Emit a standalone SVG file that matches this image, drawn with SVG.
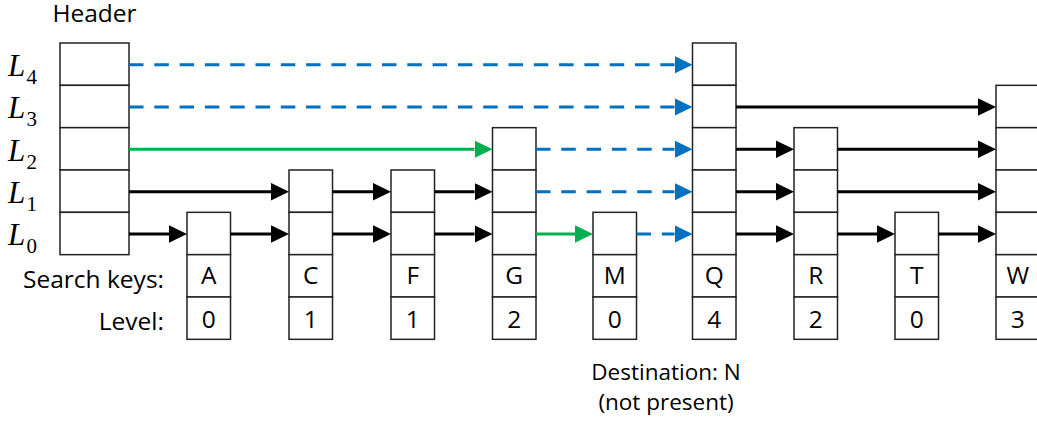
<svg xmlns="http://www.w3.org/2000/svg" width="1037" height="421" viewBox="0 0 1037 421">
  <style>
    .cell { fill: #ffffff; stroke: #222222; stroke-width: 1.5; }
    .lbl { font-family: "Open Sans", Lato, "Liberation Sans", sans-serif; font-size: 24.5px; fill: #000000; }
    .note { font-family: "Open Sans", Lato, "Liberation Sans", sans-serif; font-size: 22.5px; fill: #000000; text-anchor: middle; }
    .mid { text-anchor: middle; }
    .end { text-anchor: end; }
    .lv { font-family: "Liberation Serif", "DejaVu Serif", serif; font-style: italic; font-size: 31px; fill: #000000; }
    .sub { font-family: "Liberation Serif", "DejaVu Serif", serif; font-size: 21px; fill: #000000; }
    .k { stroke: #000000; stroke-width: 3; fill: none; marker-end: url(#ah-k); }
    .g { stroke: #00B050; stroke-width: 3; fill: none; marker-end: url(#ah-g); }
    .b { stroke: #0070C0; stroke-width: 3; fill: none; stroke-dasharray: 14.5 10.8; marker-end: url(#ah-b); }
  </style>
  <defs>
    <marker id="ah-k" viewBox="0 0 18 18" refX="0" refY="9" markerWidth="18" markerHeight="18" markerUnits="userSpaceOnUse" orient="auto">
      <path d="M0,0.25 L18,9 L0,17.75 z" fill="#000000"/>
    </marker>
    <marker id="ah-g" viewBox="0 0 18 18" refX="0" refY="9" markerWidth="18" markerHeight="18" markerUnits="userSpaceOnUse" orient="auto">
      <path d="M0,0.25 L18,9 L0,17.75 z" fill="#00B050"/>
    </marker>
    <marker id="ah-b" viewBox="0 0 18 18" refX="0" refY="9" markerWidth="18" markerHeight="18" markerUnits="userSpaceOnUse" orient="auto">
      <path d="M0,0.25 L18,9 L0,17.75 z" fill="#0070C0"/>
    </marker>
  </defs>

  <rect x="0" y="0" width="1037" height="421" fill="#ffffff"/>

  <!-- level labels -->
  <g id="level-labels">
    <text class="lv" x="8" y="76">L</text><text class="sub" x="26.5" y="84">4</text>
    <text class="lv" x="8" y="118.3">L</text><text class="sub" x="26.5" y="126.3">3</text>
    <text class="lv" x="8" y="160.7">L</text><text class="sub" x="26.5" y="168.7">2</text>
    <text class="lv" x="8" y="203">L</text><text class="sub" x="26.5" y="211">1</text>
    <text class="lv" x="8" y="245.3">L</text><text class="sub" x="26.5" y="253.3">0</text>
  </g>

  <g id="row-labels">
    <text class="lbl end" x="164" y="288">Search keys:</text>
    <text class="lbl end" x="164" y="330">Level:</text>
  </g>

  <!-- header node -->
  <g id="node-header">
    <text class="lbl mid" x="94.5" y="22">Header</text>
    <rect class="cell" x="60" y="43" width="69" height="42.33"/>
    <rect class="cell" x="60" y="85.33" width="69" height="42.33"/>
    <rect class="cell" x="60" y="127.67" width="69" height="42.33"/>
    <rect class="cell" x="60" y="170" width="69" height="42.33"/>
    <rect class="cell" x="60" y="212.33" width="69" height="42.33"/>
  </g>

  <!-- key A, level 0 -->
  <g id="node-A">
    <rect class="cell" x="187" y="212.33" width="43.5" height="42.33"/>
    <rect class="cell" x="187" y="254.67" width="43.5" height="42.33"/>
    <rect class="cell" x="187" y="297" width="43.5" height="42.33"/>
    <text class="lbl mid" x="208.75" y="283.5">A</text>
    <text class="lbl mid" x="208.75" y="327.5">0</text>
  </g>

  <!-- key C, level 1 -->
  <g id="node-C">
    <rect class="cell" x="289" y="170" width="43.5" height="42.33"/>
    <rect class="cell" x="289" y="212.33" width="43.5" height="42.33"/>
    <rect class="cell" x="289" y="254.67" width="43.5" height="42.33"/>
    <rect class="cell" x="289" y="297" width="43.5" height="42.33"/>
    <text class="lbl mid" x="310.75" y="283.5">C</text>
    <text class="lbl mid" x="310.75" y="327.5">1</text>
  </g>

  <!-- key F, level 1 -->
  <g id="node-F">
    <rect class="cell" x="391" y="170" width="43.5" height="42.33"/>
    <rect class="cell" x="391" y="212.33" width="43.5" height="42.33"/>
    <rect class="cell" x="391" y="254.67" width="43.5" height="42.33"/>
    <rect class="cell" x="391" y="297" width="43.5" height="42.33"/>
    <text class="lbl mid" x="412.75" y="283.5">F</text>
    <text class="lbl mid" x="412.75" y="327.5">1</text>
  </g>

  <!-- key G, level 2 -->
  <g id="node-G">
    <rect class="cell" x="492.5" y="127.67" width="43.5" height="42.33"/>
    <rect class="cell" x="492.5" y="170" width="43.5" height="42.33"/>
    <rect class="cell" x="492.5" y="212.33" width="43.5" height="42.33"/>
    <rect class="cell" x="492.5" y="254.67" width="43.5" height="42.33"/>
    <rect class="cell" x="492.5" y="297" width="43.5" height="42.33"/>
    <text class="lbl mid" x="514.25" y="283.5">G</text>
    <text class="lbl mid" x="514.25" y="327.5">2</text>
  </g>

  <!-- key M, level 0 -->
  <g id="node-M">
    <rect class="cell" x="593" y="212.33" width="43.5" height="42.33"/>
    <rect class="cell" x="593" y="254.67" width="43.5" height="42.33"/>
    <rect class="cell" x="593" y="297" width="43.5" height="42.33"/>
    <text class="lbl mid" x="614.75" y="283.5">M</text>
    <text class="lbl mid" x="614.75" y="327.5">0</text>
  </g>

  <!-- key Q, level 4 -->
  <g id="node-Q">
    <rect class="cell" x="692.5" y="43" width="43.5" height="42.33"/>
    <rect class="cell" x="692.5" y="85.33" width="43.5" height="42.33"/>
    <rect class="cell" x="692.5" y="127.67" width="43.5" height="42.33"/>
    <rect class="cell" x="692.5" y="170" width="43.5" height="42.33"/>
    <rect class="cell" x="692.5" y="212.33" width="43.5" height="42.33"/>
    <rect class="cell" x="692.5" y="254.67" width="43.5" height="42.33"/>
    <rect class="cell" x="692.5" y="297" width="43.5" height="42.33"/>
    <text class="lbl mid" x="714.25" y="283.5">Q</text>
    <text class="lbl mid" x="714.25" y="327.5">4</text>
  </g>

  <!-- key R, level 2 -->
  <g id="node-R">
    <rect class="cell" x="794" y="127.67" width="43.5" height="42.33"/>
    <rect class="cell" x="794" y="170" width="43.5" height="42.33"/>
    <rect class="cell" x="794" y="212.33" width="43.5" height="42.33"/>
    <rect class="cell" x="794" y="254.67" width="43.5" height="42.33"/>
    <rect class="cell" x="794" y="297" width="43.5" height="42.33"/>
    <text class="lbl mid" x="815.75" y="283.5">R</text>
    <text class="lbl mid" x="815.75" y="327.5">2</text>
  </g>

  <!-- key T, level 0 -->
  <g id="node-T">
    <rect class="cell" x="895" y="212.33" width="43.5" height="42.33"/>
    <rect class="cell" x="895" y="254.67" width="43.5" height="42.33"/>
    <rect class="cell" x="895" y="297" width="43.5" height="42.33"/>
    <text class="lbl mid" x="916.75" y="283.5">T</text>
    <text class="lbl mid" x="916.75" y="327.5">0</text>
  </g>

  <!-- key W, level 3 (runs past the right edge) -->
  <g id="node-W">
    <rect class="cell" x="996" y="85.33" width="43.5" height="42.33"/>
    <rect class="cell" x="996" y="127.67" width="43.5" height="42.33"/>
    <rect class="cell" x="996" y="170" width="43.5" height="42.33"/>
    <rect class="cell" x="996" y="212.33" width="43.5" height="42.33"/>
    <rect class="cell" x="996" y="254.67" width="43.5" height="42.33"/>
    <rect class="cell" x="996" y="297" width="43.5" height="42.33"/>
    <text class="lbl mid" x="1017.75" y="283.5">W</text>
    <text class="lbl mid" x="1017.75" y="327.5">3</text>
  </g>

  <!-- forward pointers; each line stops at the arrowhead base -->
  <g id="connectors">
    <!-- L4 -->
    <line class="b" x1="129" y1="64.7" x2="674.5" y2="64.7"/>
    <!-- L3 -->
    <line class="b" x1="129" y1="107" x2="674.5" y2="107"/>
    <line class="k" x1="736" y1="107" x2="978" y2="107"/>
    <!-- L2 -->
    <line class="g" x1="129" y1="149.3" x2="474.5" y2="149.3"/>
    <line class="b" x1="536" y1="149.3" x2="674.5" y2="149.3"/>
    <line class="k" x1="736" y1="149.3" x2="776" y2="149.3"/>
    <line class="k" x1="837.5" y1="149.3" x2="978" y2="149.3"/>
    <!-- L1 -->
    <line class="k" x1="129" y1="191.7" x2="271" y2="191.7"/>
    <line class="k" x1="332.5" y1="191.7" x2="373" y2="191.7"/>
    <line class="k" x1="434.5" y1="191.7" x2="474.5" y2="191.7"/>
    <line class="b" x1="536" y1="191.7" x2="674.5" y2="191.7"/>
    <line class="k" x1="736" y1="191.7" x2="776" y2="191.7"/>
    <line class="k" x1="837.5" y1="191.7" x2="978" y2="191.7"/>
    <!-- L0 -->
    <line class="k" x1="129" y1="234" x2="169" y2="234"/>
    <line class="k" x1="230.5" y1="234" x2="271" y2="234"/>
    <line class="k" x1="332.5" y1="234" x2="373" y2="234"/>
    <line class="k" x1="434.5" y1="234" x2="474.5" y2="234"/>
    <line class="g" x1="536" y1="234" x2="575" y2="234"/>
    <line class="b" x1="636.5" y1="234" x2="674.5" y2="234"/>
    <line class="k" x1="736" y1="234" x2="776" y2="234"/>
    <line class="k" x1="837.5" y1="234" x2="877" y2="234"/>
    <line class="k" x1="938.5" y1="234" x2="978" y2="234"/>
  </g>

  <g id="destination-note">
    <text class="note" x="666" y="379.5">Destination: N</text>
    <text class="note" x="666" y="410">(not present)</text>
  </g>
</svg>
